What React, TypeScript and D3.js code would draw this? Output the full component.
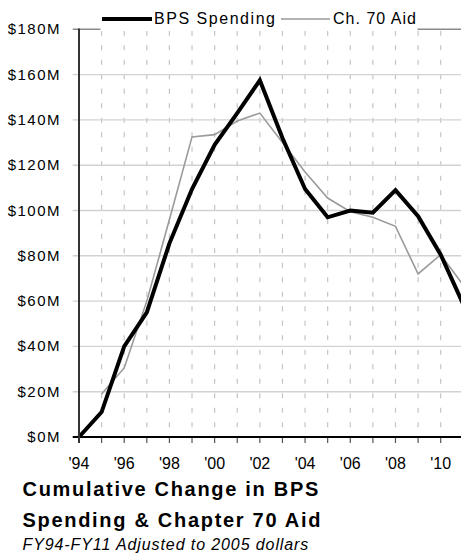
import React from "react";
import * as d3 from "d3";

const years = [1994, 1995, 1996, 1997, 1998, 1999, 2000, 2001, 2002, 2003, 2004, 2005, 2006, 2007, 2008, 2009, 2010, 2011];
const bpsSpending = [0, 11, 40, 55, 85.5, 109.5, 129, 143, 157.5, 132, 109.5, 97, 100, 99, 109, 97.5, 80.5, 58.5];
const ch70Aid: (number | null)[] = [null, 19, 30.5, 60, 96, 132.5, 133.5, 139.5, 143, 130, 117, 105.5, 99.5, 97, 93, 72, 80.5, 67];
const yTicks = [0, 20, 40, 60, 80, 100, 120, 140, 160, 180];
const xLabelYears = [1994, 1996, 1998, 2000, 2002, 2004, 2006, 2008, 2010];
const seriesNames = ["BPS Spending", "Ch. 70 Aid"];
const titleLines = ["Cumulative Change in BPS", "Spending & Chapter 70 Aid"];
const subtitle = "FY94-FY11 Adjusted to 2005 dollars";

const FONT = "'Liberation Sans', Arial, sans-serif";

export default function App() {
  const W = 461;
  const H = 560;
  const x = d3.scaleLinear().domain([1994, 2011]).range([79, 463.3]);
  const y = d3.scaleLinear().domain([0, 180]).range([437, 29.3]);

  const bpsData = years.map((yr, i) => ({ yr, v: bpsSpending[i] as number | null }));
  const chData = years.map((yr, i) => ({ yr, v: ch70Aid[i] }));
  const line = d3
    .line<{ yr: number; v: number | null }>()
    .defined((d) => d.v !== null)
    .x((d) => x(d.yr))
    .y((d) => y(d.v as number));

  const top = y(180);
  const bottom = y(0);

  return (
    <svg
      width={W}
      height={H}
      style={{ position: "absolute", left: 0, top: 0 }}
      fontFamily={FONT}
    >
      <rect x={0} y={0} width={W} height={H} fill="#fff" />
      {/* vertical dashed gridlines */}
      {years.slice(1).map((yr) => (
        <line
          key={"v" + yr}
          x1={x(yr)}
          x2={x(yr)}
          y1={top + 1.5}
          y2={bottom}
          stroke="#c4c4c4"
          strokeWidth={1.2}
          strokeDasharray="5,9.5"
        />
      ))}
      {/* horizontal gridlines */}
      {yTicks.slice(1, -1).map((t) => (
        <line
          key={"h" + t}
          x1={72.7}
          x2={W}
          y1={y(t)}
          y2={y(t)}
          stroke="#d2d2d2"
          strokeWidth={1.4}
        />
      ))}
      {/* top border */}
      <line x1={72.7} x2={W} y1={top} y2={top} stroke="#8a8a8a" strokeWidth={1.4} />
      {/* x tick marks */}
      {years.slice(1).map((yr) => (
        <line
          key={"xt" + yr}
          x1={x(yr)}
          x2={x(yr)}
          y1={bottom}
          y2={bottom + 6}
          stroke="#555"
          strokeWidth={1.2}
        />
      ))}
      {/* y tick labels */}
      {yTicks.map((t) => (
        <text
          key={"yl" + t}
          x={61}
          y={y(t) + 5}
          textAnchor="end"
          fontSize={15}
          letterSpacing={1.5}
          fill="#000"
        >
          {"$" + t + "M"}
        </text>
      ))}
      {/* x tick labels */}
      {xLabelYears.map((yr) => (
        <text
          key={"xl" + yr}
          x={x(yr)}
          y={468.5}
          textAnchor="middle"
          fontSize={16}
          fill="#000"
        >
          {"'" + String(yr).slice(2)}
        </text>
      ))}
      {/* data lines */}
      <path d={line(chData) || ""} fill="none" stroke="#9a9a9a" strokeWidth={1.6} strokeLinejoin="miter" />
      <path d={line(bpsData) || ""} fill="none" stroke="#000" strokeWidth={4} strokeLinejoin="miter" />
      {/* axes */}
      <line x1={72.7} x2={W} y1={bottom} y2={bottom} stroke="#000" strokeWidth={2} />
      <line x1={79} x2={79} y1={top - 0.7} y2={bottom + 6} stroke="#333" strokeWidth={2} />
      {/* legend */}
      <rect x={100.5} y={4} width={317} height={27} fill="#fff" />
      <line x1={102} x2={152} y1={19} y2={19} stroke="#000" strokeWidth={4} />
      <text x={154} y={23.5} fontSize={16} textLength={121} lengthAdjust="spacing" fill="#000">
        {seriesNames[0]}
      </text>
      <line x1={281} x2={330} y1={19} y2={19} stroke="#9a9a9a" strokeWidth={1.6} />
      <text x={333} y={23.5} fontSize={16} textLength={83} lengthAdjust="spacing" fill="#000">
        {seriesNames[1]}
      </text>
      {/* title */}
      <text x={22.5} y={496} fontSize={20} fontWeight="bold" letterSpacing={1.7} fill="#000">
        {titleLines[0]}
      </text>
      <text x={22.5} y={527} fontSize={20} fontWeight="bold" letterSpacing={1.7} fill="#000">
        {titleLines[1]}
      </text>
      <text x={22.5} y={550} fontSize={16} fontStyle="italic" letterSpacing={0.9} fill="#000">
        {subtitle}
      </text>
    </svg>
  );
}
